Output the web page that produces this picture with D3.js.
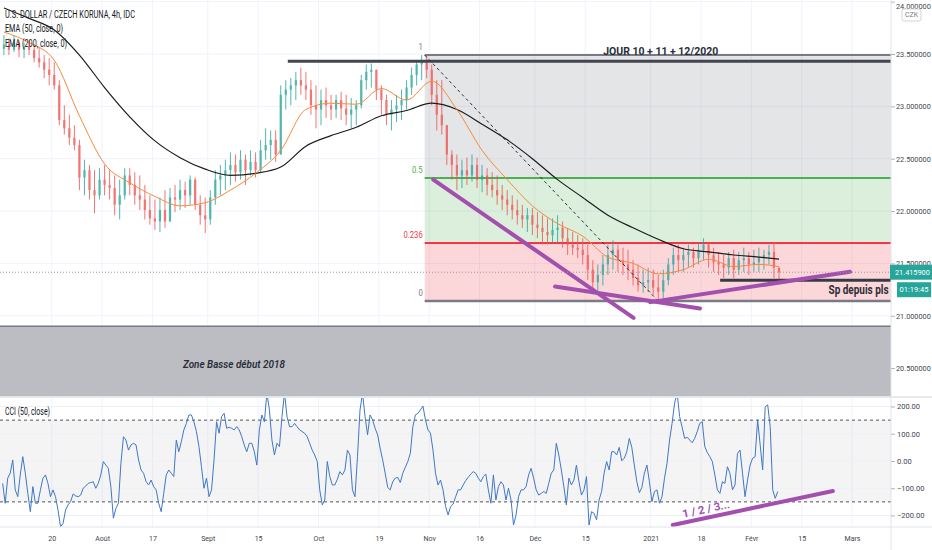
<!DOCTYPE html>
<html>
<head>
<meta charset="utf-8">
<script src="https://cdn.jsdelivr.net/npm/d3@7"></script>
<style>
  body { margin: 0; background: #fff; }
  svg { display: block; }
  text { font-family: Roboto, "Noto Sans", sans-serif; }
</style>
</head>
<body>
<svg width="932" height="550"></svg>
<script>
// **** Data ****

// one candle per trading day, day 0 = 6 Jul 2020
var firstOpen = 23.55;
var dayHigh = [
  23.68,23.65,23.68,23.63,23.61,23.63,23.59,23.56,23.49,23.46,
  23.42,23.25,23.01,22.92,22.82,22.68,22.49,22.44,22.39,22.41,
  22.44,22.39,22.34,22.30,22.41,22.41,22.37,22.34,22.25,22.15,
  22.11,22.13,22.20,22.22,22.25,22.30,22.28,22.34,22.32,22.15,
  22.13,22.20,22.39,22.44,22.49,22.56,22.54,22.58,22.54,22.58,
  22.56,22.68,22.79,22.77,22.77,23.20,23.25,23.27,23.33,23.37,
  23.33,23.25,23.20,23.16,23.18,23.11,23.11,23.14,23.11,23.08,
  23.06,23.30,23.40,23.41,23.35,23.20,23.11,23.06,23.11,23.16,
  23.25,23.37,23.44,23.49,23.49,23.40,23.25,23.25,22.79,22.58,
  22.54,22.49,22.51,22.54,22.51,22.44,22.41,22.37,22.34,22.25,
  22.20,22.15,22.11,22.06,22.03,22.03,21.99,21.96,21.93,21.93,
  21.96,21.90,21.84,21.80,21.77,21.74,21.68,21.53,21.49,21.58,
  21.68,21.72,21.68,21.65,21.63,21.53,21.49,21.44,21.46,21.44,
  21.39,21.44,21.55,21.65,21.68,21.65,21.68,21.65,21.70,21.74,
  21.70,21.65,21.61,21.58,21.61,21.63,21.61,21.65,21.61,21.63,
  21.65,21.63,21.68,21.70,21.46
];
var dayLow = [
  23.49,23.49,23.52,23.47,23.46,23.49,23.42,23.37,23.27,23.20,
  23.16,22.82,22.73,22.63,22.58,22.20,22.15,22.11,21.98,22.11,
  22.15,22.11,21.96,21.92,22.11,22.15,22.06,22.01,21.92,21.87,
  21.82,21.80,21.84,21.96,21.99,22.01,22.03,22.06,22.01,21.87,
  21.79,21.87,22.06,22.15,22.20,22.25,22.28,22.30,22.25,22.34,
  22.32,22.37,22.49,22.49,22.47,22.54,22.97,23.01,23.06,23.11,
  23.06,22.92,22.79,22.82,22.89,22.87,22.89,22.87,22.82,22.79,
  22.82,22.98,23.16,23.18,23.06,22.92,22.82,22.77,22.85,22.87,
  22.97,23.11,23.20,23.25,23.27,23.01,22.77,22.73,22.44,22.30,
  22.20,22.22,22.25,22.28,22.22,22.18,22.15,22.13,22.06,22.01,
  21.96,21.92,21.87,21.84,21.80,21.77,21.74,21.68,21.68,21.70,
  21.70,21.65,21.58,21.58,21.55,21.49,21.34,21.25,21.23,21.29,
  21.39,21.44,21.42,21.39,21.34,21.29,21.23,21.22,21.23,21.20,
  21.14,21.17,21.29,21.39,21.42,21.42,21.46,21.46,21.49,21.53,
  21.46,21.42,21.39,21.36,21.39,21.36,21.39,21.42,21.39,21.42,
  21.42,21.44,21.49,21.36,21.34
];
var dayClose = [
  23.59,23.54,23.61,23.54,23.57,23.54,23.46,23.42,23.35,23.30,
  23.20,22.87,22.79,22.70,22.63,22.32,22.39,22.20,22.15,22.30,
  22.25,22.22,22.06,22.15,22.34,22.25,22.15,22.11,22.01,21.93,
  21.90,22.01,21.90,22.13,22.11,22.20,22.15,22.30,22.06,21.96,
  21.92,22.13,22.30,22.34,22.39,22.44,22.37,22.49,22.39,22.47,
  22.39,22.58,22.63,22.68,22.54,23.11,23.16,23.20,23.25,23.20,
  23.16,23.01,22.97,23.06,23.01,22.97,23.06,22.98,22.92,22.97,
  23.01,23.25,23.33,23.35,23.16,23.06,22.92,22.97,23.01,23.06,
  23.18,23.30,23.40,23.42,23.35,23.11,22.92,22.82,22.54,22.44,
  22.34,22.39,22.34,22.44,22.30,22.34,22.25,22.20,22.15,22.11,
  22.06,22.01,21.96,21.92,21.96,21.87,21.84,21.80,21.77,21.82,
  21.84,21.74,21.68,21.65,21.63,21.58,21.44,21.32,21.39,21.49,
  21.58,21.63,21.53,21.49,21.44,21.36,21.29,21.32,21.34,21.27,
  21.23,21.34,21.49,21.58,21.53,21.58,21.61,21.55,21.63,21.68,
  21.58,21.51,21.49,21.46,21.55,21.44,21.53,21.55,21.49,21.51,
  21.55,21.58,21.61,21.46,21.416
];

// moving averages, read every 5 trading days
var emaDays = [0,5,10,15,20,25,30,35,40,45,50,55,60,65,70,75,80,85,90,95,100,105,110,115,120,125,130,135,140,145,150,154];
var ema50 = [23.71,23.61,23.44,22.91,22.45,22.27,22.14,22.05,22.08,22.20,22.36,22.58,22.97,23.03,23.02,23.17,
             23.06,23.24,22.97,22.58,22.30,22.05,21.88,21.76,21.56,21.50,21.40,21.44,21.54,21.47,21.49,21.47];
var ema200 = [23.94,23.84,23.73,23.49,23.18,22.90,22.67,22.51,22.40,22.34,22.36,22.42,22.62,22.72,22.80,22.91,
              22.96,23.03,22.97,22.83,22.68,22.50,22.30,22.13,21.96,21.84,21.73,21.64,21.61,21.58,21.56,21.54];

// CCI (50), two readings per trading day
var cci = [
  -82,-155,-63,-45,4,-106,-131,-51,16,-45,
  -119,-186,-94,-155,-155,-106,-63,-51,-82,-131,
  -106,-131,-180,-241,-229,-180,-161,-149,-121,-128,
  -131,-125,-100,-92,-82,-79,-76,-100,-82,-51,
  -2,-15,-27,-94,-210,-174,-155,-8,89,77,
  40,59,65,59,4,-33,-45,-76,-88,-70,
  -94,-106,-155,-186,-119,-51,-33,-45,-57,77,
  34,71,114,138,169,169,144,108,53,-21,
  -100,-63,-131,-106,4,144,102,163,175,120,
  124,120,114,126,114,89,59,34,65,65,
  34,-15,114,169,144,250,187,77,22,65,
  53,163,250,163,126,126,138,126,114,108,
  102,89,65,40,22,-2,-106,-161,-143,-2,
  -57,-88,-88,-67,-39,-51,-33,40,22,-106,
  -131,16,187,250,163,96,169,151,120,96,
  47,4,-45,-97,-106,-76,-63,-60,-79,-45,
  -23,-2,28,126,169,175,187,202,151,114,
  102,40,-45,-88,-70,-106,-167,-198,-167,-158,
  -131,-106,-106,-88,-72,-60,-48,-39,-45,-63,
  -76,-57,-48,-106,-155,-51,-143,-94,-76,-88,
  -143,-100,-143,-235,-198,-131,-106,-106,-94,-51,
  -27,-63,-106,-125,-119,-112,-119,-82,-45,-33,
  65,22,-33,-94,-161,-63,-88,-70,-15,-76,
  -125,-106,-57,-235,-186,-192,-216,-143,-112,-45,
  -2,-33,34,34,22,50,1,10,34,83,
  50,-15,-76,-116,-97,-45,-15,-76,-149,-112,
  -106,-155,-131,-63,-8,77,138,212,250,163,
  124,83,87,77,67,83,108,138,144,53,
  31,16,-2,-51,-106,-119,-76,-82,-21,-45,
  -106,-88,28,40,-45,-131,-70,-15,10,16,
  151,60,-33,199,206,126,-106,-137,-112
];

// axes
var tickDays = [10,20,30,41,51,63,75,85,95,106,116,129,139,149,159,169];
var tickLabels = ["20","Août","17","Sept","15","Oct","19","Nov","16","Déc","15","2021","18","Févr","15","Mars"];
var priceTicks = [24,23.5,23,22.5,22,21.5,21,20.5];
var cciTicks = [200,100,0,-100,-200];
var cciBands = [150,-150];

// drawings
var fibHigh = 23.49, fibLow = 21.14, fibStartDay = 84.1, fibEndDay = 130.5;
var fibLevels = [1,0.5,0.236,0];
var lastPrice = 21.4159;
var resistPrice = 23.43, resistStartDay = 56.9;
var supportPrice = 21.34, supportStartDay = 142.8;
var zoneTop = 20.90, zoneBottom = 20.23;
var trendA = [[85.8,22.30],[125.6,20.98]];
var trendB = [[110.0,21.28],[138.8,21.07]];
var trendC = [[128.9,21.13],[168.6,21.42]];
var cciTrend = [[133.4,-235],[165.2,-110]];

// **** Layout ****
var axisX = 891, mainBottom = 397, cciBottom = 527;

var x = d3.scaleLinear().domain([0,169]).range([1.4,852]);
var y = d3.scaleLinear().domain([20.5,24]).range([368.1,1.65]);
var yc = d3.scaleLinear().domain([-200,200]).range([515.5,406.5]);

var svg = d3.select('svg');

function squeeze(sel, k) {
  sel.each(function() {
    var w = this.getComputedTextLength();
    d3.select(this).attr('textLength', w * k).attr('lengthAdjust', 'spacingAndGlyphs');
  });
}

var defs = svg.append('defs');
defs.append('clipPath').attr('id', 'clipMain')
  .append('rect').attr('x', 0).attr('y', 0).attr('width', axisX).attr('height', mainBottom);
defs.append('clipPath').attr('id', 'clipCci')
  .append('rect').attr('x', 0).attr('y', mainBottom + 1).attr('width', axisX).attr('height', cciBottom - mainBottom - 1);

var main = svg.append('g').attr('clip-path', 'url(#clipMain)');
var pane = svg.append('g').attr('clip-path', 'url(#clipCci)');

// grid
main.selectAll('line.vg').data(tickDays).enter().append('line')
  .attr('x1', d => x(d)).attr('x2', d => x(d)).attr('y1', 0).attr('y2', mainBottom)
  .attr('stroke', '#f0f3fa');
main.selectAll('line.hg').data(priceTicks).enter().append('line')
  .attr('x1', 0).attr('x2', axisX).attr('y1', d => y(d)).attr('y2', d => y(d))
  .attr('stroke', '#f0f3fa');

// low zone
main.append('rect')
  .attr('x', 0).attr('width', axisX)
  .attr('y', y(zoneTop)).attr('height', y(zoneBottom) - y(zoneTop))
  .attr('fill', '#bbbdc2');
main.append('line')
  .attr('x1', 0).attr('x2', axisX).attr('y1', y(zoneTop)).attr('y2', y(zoneTop))
  .attr('stroke', '#787b86').attr('stroke-width', 1.5);

// fibonacci retracement
function fibPrice(l) { return fibLow + l * (fibHigh - fibLow); }
var fibFills = ['rgba(120,123,134,0.2)', 'rgba(76,175,80,0.2)', 'rgba(242,54,69,0.2)'];
var fibColors = ['#787b86', '#4caf50', '#f23645', '#787b86'];
fibFills.forEach(function(c, i) {
  main.append('rect')
    .attr('x', x(fibStartDay)).attr('width', axisX - x(fibStartDay))
    .attr('y', y(fibPrice(fibLevels[i])))
    .attr('height', y(fibPrice(fibLevels[i + 1])) - y(fibPrice(fibLevels[i])))
    .attr('fill', c);
});
main.selectAll('line.fib').data(fibLevels).enter().append('line')
  .attr('x1', x(fibStartDay)).attr('x2', axisX)
  .attr('y1', d => y(fibPrice(d))).attr('y2', d => y(fibPrice(d)))
  .attr('stroke', (d, i) => fibColors[i]).attr('stroke-width', (d, i) => i == 3 ? 2.5 : 2);
main.selectAll('text.fib').data(fibLevels).enter().append('text')
  .attr('x', x(fibStartDay) - 2).attr('y', d => y(fibPrice(d)) - 5)
  .attr('text-anchor', 'end').attr('font-size', 9)
  .attr('fill', (d, i) => fibColors[i])
  .text(d => String(d))
  .call(squeeze, 0.85);

// candles
var candles = dayClose.map(function(c, i) {
  return { day: i, open: i == 0 ? firstOpen : dayClose[i - 1], high: dayHigh[i], low: dayLow[i], close: c };
});
var cg = main.selectAll('g.candle').data(candles).enter().append('g')
  .attr('class', 'candle')
  .attr('opacity', 0.8);
cg.append('line')
  .attr('x1', d => x(d.day + 0.5)).attr('x2', d => x(d.day + 0.5))
  .attr('y1', d => y(Math.max(d.high, d.open, d.close)))
  .attr('y2', d => y(Math.min(d.low, d.open, d.close)))
  .attr('stroke', d => d.close >= d.open ? '#26a69a' : '#ef5350');
cg.append('rect')
  .attr('x', d => x(d.day + 0.5) - 1.1).attr('width', 2.2)
  .attr('y', d => y(Math.max(d.open, d.close)))
  .attr('height', d => Math.max(1, Math.abs(y(d.open) - y(d.close))))
  .attr('fill', d => d.close >= d.open ? '#26a69a' : '#ef5350');

// moving averages
var emaLine = d3.line().x(d => x(d.day + 0.5)).y(d => y(d.v)).curve(d3.curveMonotoneX);
main.append('path')
  .datum(emaDays.map((d, i) => ({ day: d, v: ema200[i] })))
  .attr('d', emaLine).attr('fill', 'none').attr('stroke', '#1c1c1c').attr('stroke-width', 1.2);
main.append('path')
  .datum(emaDays.map((d, i) => ({ day: d, v: ema50[i] })))
  .attr('d', emaLine).attr('fill', 'none').attr('stroke', '#f7893b').attr('stroke-width', 1);

// horizontal drawings
main.append('line')
  .attr('x1', x(resistStartDay)).attr('x2', axisX).attr('y1', y(resistPrice)).attr('y2', y(resistPrice))
  .attr('stroke', '#434651').attr('stroke-width', 3);
main.append('line')
  .attr('x1', x(supportStartDay)).attr('x2', axisX).attr('y1', y(supportPrice)).attr('y2', y(supportPrice))
  .attr('stroke', '#363a45').attr('stroke-width', 3);

// fib trend (dashed)
main.append('line')
  .attr('x1', x(fibStartDay)).attr('y1', y(fibHigh))
  .attr('x2', x(fibEndDay)).attr('y2', y(fibLow))
  .attr('stroke', '#2a2e39').attr('stroke-width', 1).attr('stroke-dasharray', '3,3');

// purple trend lines
[trendA, trendB, trendC].forEach(function(t) {
  main.append('line')
    .attr('x1', x(t[0][0])).attr('y1', y(t[0][1]))
    .attr('x2', x(t[1][0])).attr('y2', y(t[1][1]))
    .attr('stroke', '#a34fae').attr('stroke-width', 4).attr('stroke-linecap', 'round');
});

// last price line
main.append('line')
  .attr('x1', 0).attr('x2', axisX).attr('y1', y(lastPrice)).attr('y2', y(lastPrice))
  .attr('stroke', '#9598a1').attr('stroke-width', 1).attr('stroke-dasharray', '1,2');

// notes
main.append('text')
  .attr('x', x(131)).attr('y', y(23.53)).attr('dy', '0.35em')
  .attr('text-anchor', 'middle').attr('font-size', 11.5).attr('font-weight', 'bold')
  .attr('font-family', '"Open Sans", sans-serif').attr('fill', '#2a2e39')
  .attr('textLength', 115).attr('lengthAdjust', 'spacingAndGlyphs')
  .text('JOUR 10 + 11 + 12/2020');
main.append('text')
  .attr('x', x(170.3)).attr('y', y(21.25)).attr('dy', '0.35em')
  .attr('text-anchor', 'middle').attr('font-size', 12).attr('font-weight', 'bold')
  .attr('font-family', '"Open Sans", sans-serif').attr('fill', '#2a2e39')
  .attr('textLength', 60).attr('lengthAdjust', 'spacingAndGlyphs')
  .text('Sp depuis pls');
main.append('text')
  .attr('x', x(46.2)).attr('y', y(20.54)).attr('dy', '0.35em')
  .attr('text-anchor', 'middle').attr('font-size', 11.5).attr('font-weight', 600)
  .attr('font-style', 'italic')
  .attr('font-family', '"Open Sans", sans-serif').attr('fill', '#2a2e39')
  .attr('textLength', 102).attr('lengthAdjust', 'spacingAndGlyphs')
  .text('Zone Basse début 2018');

// legend
var legend = [
  { t: 'U.S. DOLLAR / CZECH KORUNA, 4h, IDC', y: 14, w: 130 },
  { t: 'EMA (50, close, 0)', y: 28, w: 58 },
  { t: 'EMA (200, close, 0)', y: 43, w: 62 }
];
svg.selectAll('text.legend').data(legend).enter().append('text')
  .attr('x', 5).attr('y', d => d.y).attr('dy', '0.35em')
  .attr('font-size', 10.5).attr('fill', '#131722')
  .attr('textLength', d => d.w).attr('lengthAdjust', 'spacingAndGlyphs')
  .text(d => d.t);

// **** CCI pane ****
pane.selectAll('line.vg').data(tickDays).enter().append('line')
  .attr('x1', d => x(d)).attr('x2', d => x(d)).attr('y1', mainBottom).attr('y2', cciBottom)
  .attr('stroke', '#f0f3fa');
pane.append('rect')
  .attr('x', 0).attr('width', axisX)
  .attr('y', yc(cciBands[0])).attr('height', yc(cciBands[1]) - yc(cciBands[0]))
  .attr('fill', 'rgba(149,152,161,0.1)');
pane.selectAll('line.hg').data(cciTicks).enter().append('line')
  .attr('x1', 0).attr('x2', axisX).attr('y1', d => yc(d)).attr('y2', d => yc(d))
  .attr('stroke', '#eef0f6');
pane.selectAll('line.band').data(cciBands).enter().append('line')
  .attr('x1', 0).attr('x2', axisX).attr('y1', d => yc(d)).attr('y2', d => yc(d))
  .attr('stroke', '#50535e').attr('stroke-dasharray', '3,3');
pane.append('path')
  .datum(cci)
  .attr('d', d3.line().x((d, i) => x((i + 0.5) / 2)).y(d => yc(d)))
  .attr('fill', 'none').attr('stroke', '#4177c4').attr('stroke-width', 1);
pane.append('line')
  .attr('x1', x(cciTrend[0][0])).attr('y1', yc(cciTrend[0][1]))
  .attr('x2', x(cciTrend[1][0])).attr('y2', yc(cciTrend[1][1]))
  .attr('stroke', '#a34fae').attr('stroke-width', 4).attr('stroke-linecap', 'round');
var slope = Math.atan2(yc(cciTrend[1][1]) - yc(cciTrend[0][1]), x(cciTrend[1][0]) - x(cciTrend[0][0])) * 180 / Math.PI;
pane.append('text')
  .attr('transform', 'translate(' + x(140) + ',' + yc(-176) + ') rotate(' + slope + ')')
  .attr('text-anchor', 'middle').attr('dy', '0.35em')
  .attr('font-size', 11).attr('font-weight', 'bold')
  .attr('font-family', '"Open Sans", sans-serif').attr('fill', '#a34fae')
  .attr('textLength', 48).attr('lengthAdjust', 'spacingAndGlyphs')
  .text('1 / 2 / 3...');
svg.append('text')
  .attr('x', 5).attr('y', 411).attr('dy', '0.35em')
  .attr('font-size', 10).attr('fill', '#131722')
  .attr('textLength', 45).attr('lengthAdjust', 'spacingAndGlyphs')
  .text('CCI (50, close)');

// **** Frame and axes ****
svg.append('line').attr('x1', 0).attr('x2', 932).attr('y1', mainBottom).attr('y2', mainBottom)
  .attr('stroke', '#e0e3eb').attr('stroke-width', 1.5);
svg.append('line').attr('x1', 0).attr('x2', 932).attr('y1', cciBottom).attr('y2', cciBottom)
  .attr('stroke', '#e0e3eb');
svg.append('line').attr('x1', axisX).attr('x2', axisX).attr('y1', 0).attr('y2', 550)
  .attr('stroke', '#e0e3eb');

var priceAxis = svg.append('g').attr('transform', 'translate(' + axisX + ',0)')
  .call(d3.axisRight(y).tickValues(priceTicks).tickFormat(d3.format('.6f')).tickSize(4).tickPadding(1));
var cciAxis = svg.append('g').attr('transform', 'translate(' + axisX + ',0)')
  .call(d3.axisRight(yc).tickValues(cciTicks).tickFormat(d3.format('.2f')).tickSize(4).tickPadding(2));
var timeAxis = svg.append('g').attr('transform', 'translate(0,' + cciBottom + ')')
  .call(d3.axisBottom(x).tickValues(tickDays).tickFormat((d, i) => tickLabels[i]).tickSize(0).tickPadding(8));

[priceAxis, cciAxis, timeAxis].forEach(function(a) {
  a.select('.domain').remove();
  a.selectAll('.tick line').attr('stroke', '#b2b5be');
  a.selectAll('.tick text').attr('fill', '#434651')
    .attr('font-family', 'Roboto, sans-serif');
});
priceAxis.selectAll('.tick text').attr('font-size', 7.3);
// keep the top label inside the picture
priceAxis.selectAll('.tick text').filter(d => d === 24).attr('dy', '0.9em');
cciAxis.selectAll('.tick text').attr('font-size', 7.5);
timeAxis.selectAll('.tick text').attr('font-size', 8).call(squeeze, 0.88);

// currency badge
svg.append('rect').attr('x', 902).attr('y', 9).attr('width', 19).attr('height', 12).attr('rx', 2)
  .attr('fill', '#fff').attr('stroke', '#d1d4dc');
svg.append('text').attr('x', 911.5).attr('y', 15).attr('dy', '0.35em').attr('text-anchor', 'middle')
  .attr('font-size', 7).attr('fill', '#787b86').text('CZK');

// last price tag and countdown
svg.append('rect').attr('x', axisX - 1).attr('y', y(lastPrice) - 7.5).attr('width', 932 - axisX + 1).attr('height', 15)
  .attr('fill', '#26a69a');
svg.append('text').attr('x', 895).attr('y', y(lastPrice)).attr('dy', '0.35em')
  .attr('font-size', 7.3).attr('fill', '#fff').text(d3.format('.6f')(lastPrice));
svg.append('rect').attr('x', 897).attr('y', y(lastPrice) + 10).attr('width', 34).attr('height', 15)
  .attr('fill', '#26a69a');
svg.append('text').attr('x', 914).attr('y', y(lastPrice) + 17.5).attr('dy', '0.35em').attr('text-anchor', 'middle')
  .attr('font-size', 7.5).attr('fill', '#fff').text('01:19:45');
</script>
</body>
</html>
